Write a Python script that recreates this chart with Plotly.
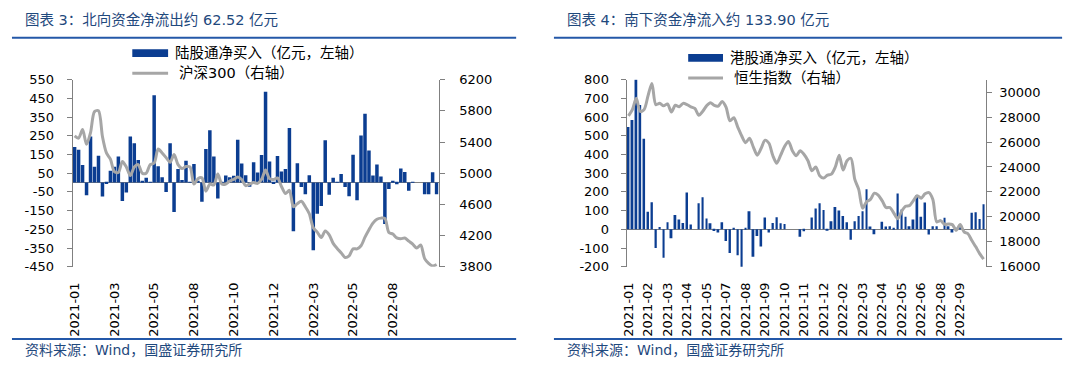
import plotly.graph_objects as go

# ---------------- data ----------------
north_flow = [190, 176, 94, -68, 246, 84, 144, -75, -8, 63,
              84, 140, -99, -53, 246, 210, 120, 5, 26, 3,
              467, 87, 29, -51, 210, -157, 72, 14, 116, 3,
              99, 5, -103, 180, 279, 140, -85, -5, 38, 29,
              36, 229, 102, 39, -22, 108, 54, 147, 485, 112,
              -8, 142, 59, 72, 291, -260, 103, -24, -63, 39,
              -361, -166, -125, 226, -65, 26, 3, 46, -24, -73,
              149, -94, 251, 368, 171, 38, 97, 32, -222, -34,
              5, -9, 75, 56, -44, 3, 0, 0, -62, -62,
              55, -62.52]
hs300 = [5480, 5450, 5560, 5370, 5520, 5790, 5800, 5470, 5260, 5180,
         5020, 5010, 5150, 5080, 4970, 5080, 5110, 5000, 5000, 5110,
         5130, 5310, 5260, 5200, 5140, 5240, 5110, 5060, 5085, 5080,
         4860, 4930, 4940, 4770, 4860, 4850, 4990, 4860, 4860, 4900,
         4920, 4950, 4920, 4840, 4860, 4880, 4870, 4920, 5040, 4930,
         4920, 4940, 4830, 4740, 4780, 4570, 4610, 4640, 4570, 4480,
         4300, 4245, 4175, 4260, 4210, 4100, 4035, 3980, 3920, 3940,
         4030, 4030, 4070, 4180, 4275, 4360, 4410, 4424, 4420, 4240,
         4220, 4170, 4160, 4170, 4130, 4090, 4040, 4080, 3905, 3845,
         3810, 3830]
north_ticks = ["2021-01", "2021-03", "2021-05", "2021-08", "2021-10",
               "2021-12", "2022-03", "2022-05", "2022-08"]
north_tick_step = 10
north_left_ticks = [-450, -350, -250, -150, -50, 50, 150, 250, 350, 450, 550]
north_right_ticks = [3800, 4200, 4600, 5000, 5400, 5800, 6200]

south_flow = [547, 585, 802, 665, 484, 94, 145, -99, 12, -152,
              38, -48, 77, 53, 34, 197, 26, 0, 140, 171,
              58, 32, -9, -17, 38, -62, -126, 5, -138, -210,
              5, 97, -147, -36, -92, 63, -17, 34, 65, 32,
              29, 0, 0, 0, -39, -10, 0, 63, 111, 140,
              104, -5, 43, 120, 101, 72, 38, -55, 44, 72,
              97, 214, 15, -26, 0, 41, 15, 17, 9, 191,
              106, 68, 17, 53, 183, 67, 144, -27, 17, 17,
              0, 62, 17, -17, 5, 24, 0, 0, 89, 92,
              55, 133.9]
hsi = [28100, 28600, 29500, 28450, 28600, 29700, 30700, 29000, 29100, 28900,
       29050, 28400, 28950, 28820, 29100, 29000, 28820, 28700, 28150, 28450,
       28900, 29150, 28930, 28880, 29250, 28800, 27700, 27950, 27200, 26500,
       25950, 26300, 25600, 24950, 25500, 26150, 25900, 24900, 24300, 24950,
       25650, 26050, 25300, 24900, 25300, 25000, 24500, 23700, 24000, 23300,
       23110, 23350, 23430, 24000, 24950, 23750, 24500, 24700, 23000, 22200,
       20700, 21200, 21400, 21900, 21750, 21300, 20750, 20750, 20300, 19850,
       20450, 20850, 20900, 21300, 21700, 21500, 21850, 21950, 21400, 19600,
       19700, 19400, 19430, 19380, 18920, 19380, 18800, 18650, 18100, 17600,
       17050, 16620]
south_ticks = ["2021-01", "2021-02", "2021-03", "2021-04", "2021-05", "2021-07",
               "2021-08", "2021-09", "2021-10", "2021-11", "2021-12", "2022-02",
               "2022-03", "2022-04", "2022-05", "2022-06", "2022-08", "2022-09"]
south_tick_step = 5
south_left_ticks = [-200, -100, 0, 100, 200, 300, 400, 500, 600, 700, 800]
south_right_ticks = [16000, 18000, 20000, 22000, 24000, 26000, 28000, 30000]

title_left = "图表 3：北向资金净流出约 62.52 亿元"
title_right = "图表 4：南下资金净流入约 133.90 亿元"
leg_bar_left = "陆股通净买入（亿元，左轴）"
leg_line_left = "沪深300（右轴）"
leg_bar_right = "港股通净买入（亿元，左轴）"
leg_line_right = "恒生指数（右轴）"
source = "资料来源：Wind，国盛证券研究所"

# ---------------- style ----------------
W, H = 1080, 372
FONT = "DejaVu Sans, Noto Sans CJK SC, sans-serif"
BAR = "#0B3D91"
LINE = "#A6A6A6"
AX = "#808080"
RULE = "#2458A8"
TITLE_C = "#1F497D"


def px(x):
    return x / W


def py(y):
    return 1 - y / H


def labels(vals):
    return [str(v) for v in vals]


nx = list(range(len(north_flow)))
sx = list(range(len(south_flow)))

fig = go.Figure()
fig.add_trace(go.Bar(x=nx, y=north_flow, width=0.88,
                     marker=dict(color=BAR, line=dict(width=0)),
                     xaxis="x", yaxis="y", showlegend=False))
fig.add_trace(go.Scatter(x=nx, y=hs300, mode="lines",
                         line=dict(color=LINE, width=3, shape="spline", smoothing=0.8),
                         xaxis="x", yaxis="y2", showlegend=False))
fig.add_trace(go.Bar(x=sx, y=south_flow, width=0.5,
                     marker=dict(color=BAR, line=dict(width=0)),
                     xaxis="x2", yaxis="y3", showlegend=False))
fig.add_trace(go.Scatter(x=sx, y=hsi, mode="lines",
                         line=dict(color=LINE, width=3, shape="spline", smoothing=0.8),
                         xaxis="x2", yaxis="y4", showlegend=False))

ydom = [py(270.7), py(75.7)]
tickfont = dict(family=FONT, size=13, color="#000000")

common_y = dict(showgrid=False, showline=True, linecolor=AX, linewidth=1,
                ticks="outside", ticklen=5, tickcolor=AX, tickfont=tickfont,
                tickmode="array")
common_x = dict(tickangle=-90, ticks="", showline=False, showgrid=False,
                zeroline=False, tickfont=tickfont, ticklabelstandoff=12,
                tickmode="array")

fig.update_layout(
    width=W, height=H, margin=dict(l=0, r=0, t=0, b=0),
    paper_bgcolor="white", plot_bgcolor="white",
    font=dict(family=FONT),
    xaxis=dict(domain=[px(67), px(435)], range=[-0.5, len(north_flow) - 0.5],
               tickvals=[i * north_tick_step for i in range(len(north_ticks))],
               ticktext=north_ticks, anchor="y", **common_x),
    yaxis=dict(domain=ydom, range=[-450, 550], tickvals=north_left_ticks,
               ticktext=labels(north_left_ticks), zeroline=True,
               zerolinecolor=AX, zerolinewidth=1, anchor="x",
               ticklabelstandoff=10, **common_y),
    yaxis2=dict(overlaying="y", side="right", range=[3800, 6200],
                tickvals=north_right_ticks, ticktext=labels(north_right_ticks),
                zeroline=False, anchor="x", ticklabelstandoff=12, **common_y),
    xaxis2=dict(domain=[px(624), px(985)], range=[-0.5, len(south_flow) - 0.5],
                tickvals=[i * south_tick_step for i in range(len(south_ticks))],
                ticktext=south_ticks, anchor="y3", **common_x),
    yaxis3=dict(domain=ydom, range=[-200, 800], tickvals=south_left_ticks,
                ticktext=labels(south_left_ticks), zeroline=True,
                zerolinecolor=AX, zerolinewidth=1, anchor="x2",
                ticklabelstandoff=9, **common_y),
    yaxis4=dict(overlaying="y3", side="right", range=[16000, 31000],
                tickvals=south_right_ticks, ticktext=labels(south_right_ticks),
                zeroline=False, anchor="x2", ticklabelstandoff=5, **common_y),
)

shapes = []
annos = []
# rules
for x0, x1 in [(6, 513), (551, 1062)]:
    shapes.append(dict(type="line", xref="paper", yref="paper", x0=px(x0), x1=px(x1),
                       y0=py(32), y1=py(32), line=dict(color=RULE, width=2)))
    shapes.append(dict(type="line", xref="paper", yref="paper", x0=px(x0), x1=px(x1),
                       y0=py(346), y1=py(346), line=dict(color=RULE, width=2)))

# titles and sources
for x, t in [(17, title_left), (562, title_right)]:
    annos.append(dict(xref="paper", yref="paper", x=px(x), y=py(14), text=t,
                      showarrow=False, xanchor="left", yanchor="middle",
                      font=dict(family=FONT, size=14.5, color=TITLE_C)))
for x in [17, 562]:
    annos.append(dict(xref="paper", yref="paper", x=px(x), y=py(357), text=source,
                      showarrow=False, xanchor="left", yanchor="middle",
                      font=dict(family=FONT, size=14, color=TITLE_C)))

# manual legends
legends = [
    (127, 163, 48, 69, 168, 172, leg_bar_left, leg_line_left),
    (686, 721, 53, 74, 726, 730, leg_bar_right, leg_line_right),
]
for sx0, sx1, yb, yl, tx1, tx2, t1, t2 in legends:
    shapes.append(dict(type="rect", xref="paper", yref="paper", x0=px(sx0), x1=px(sx1),
                       y0=py(yb + 4), y1=py(yb - 4), fillcolor=BAR, line=dict(width=0)))
    shapes.append(dict(type="line", xref="paper", yref="paper", x0=px(sx0), x1=px(sx1),
                       y0=py(yl), y1=py(yl), line=dict(color=LINE, width=3)))
    annos.append(dict(xref="paper", yref="paper", x=px(tx1), y=py(yb), text=t1,
                      showarrow=False, xanchor="left", yanchor="middle",
                      font=dict(family=FONT, size=14.5, color="#000000")))
    annos.append(dict(xref="paper", yref="paper", x=px(tx2), y=py(yl), text=t2,
                      showarrow=False, xanchor="left", yanchor="middle",
                      font=dict(family=FONT, size=14.5, color="#000000")))

fig.update_layout(shapes=shapes, annotations=annos)
fig.write_html("out.html",
               config={"displayModeBar": False},
               post_script="document.body.style.margin='0';"
                           "document.body.style.padding='0';"
                           "document.body.style.overflow='hidden';")
